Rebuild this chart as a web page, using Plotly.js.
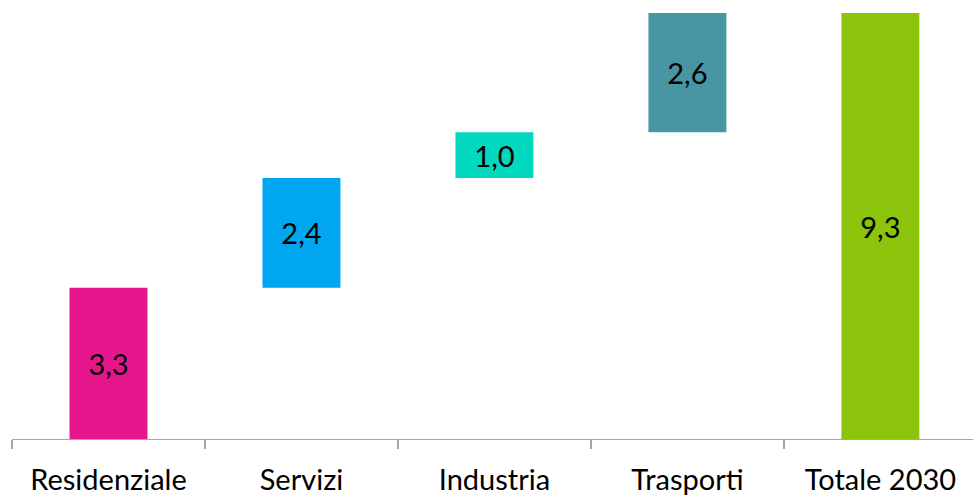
<!DOCTYPE html>
<html>
<head>
<meta charset="utf-8">
<script src="https://cdn.plot.ly/plotly-3.0.1.min.js"></script>
<style>html,body{margin:0;padding:0;background:#fff;}#chart{width:973px;height:497px;}</style>
</head>
<body>
<div id="chart"></div>
<script>
const categories = ["Residenziale", "Servizi", "Industria", "Trasporti", "Totale 2030"];
const values = [3.3, 2.4, 1.0, 2.6, 9.3];
const isTotal = [false, false, false, false, true];
const colors = ["#E5168C", "#00A6F0", "#00D9BE", "#4896A3", "#8BC40A"];

const bases = [];
let cum = 0;
for (let i = 0; i < values.length; i++) {
  if (isTotal[i]) { bases.push(0); }
  else { bases.push(cum); cum += values[i]; }
}
const labels = values.map(v => v.toFixed(1).replace('.', ','));

const FONT = 'Lato, "Open Sans", sans-serif';

const trace = {
  type: 'bar',
  x: categories,
  y: values,
  base: bases,
  marker: {color: colors, line: {width: 0}},
  text: labels,
  textposition: 'inside',
  insidetextanchor: 'middle',
  textangle: 0,
  constraintext: 'none',
  textfont: {family: FONT, size: 29, color: '#000'},
  hoverinfo: 'none'
};

const layout = {
  width: 973, height: 497,
  margin: {l: 12, r: 0, t: 0, b: 58},
  paper_bgcolor: '#fff', plot_bgcolor: '#fff',
  showlegend: false,
  bargap: 0.596,
  uniformtext: {mode: false},
  font: {family: FONT, size: 29, color: '#000'},
  xaxis: {
    type: 'category',
    range: [-0.5, 4.48],
    showline: true, linecolor: '#A6A6A6', linewidth: 1.3,
    ticks: 'outside', tickson: 'boundaries', ticklen: 9, tickcolor: '#A6A6A6', tickwidth: 1.3,
    showgrid: false, zeroline: false,
    tickfont: {family: FONT, size: 29, color: '#000'},
    ticklabelstandoff: 15,
    fixedrange: true
  },
  yaxis: {
    range: [0, 9.585],
    showline: false, showgrid: false, zeroline: false, showticklabels: false, ticks: '',
    fixedrange: true
  }
};

Plotly.newPlot('chart', [trace], layout, {displayModeBar: false, staticPlot: true});
</script>
</body>
</html>
